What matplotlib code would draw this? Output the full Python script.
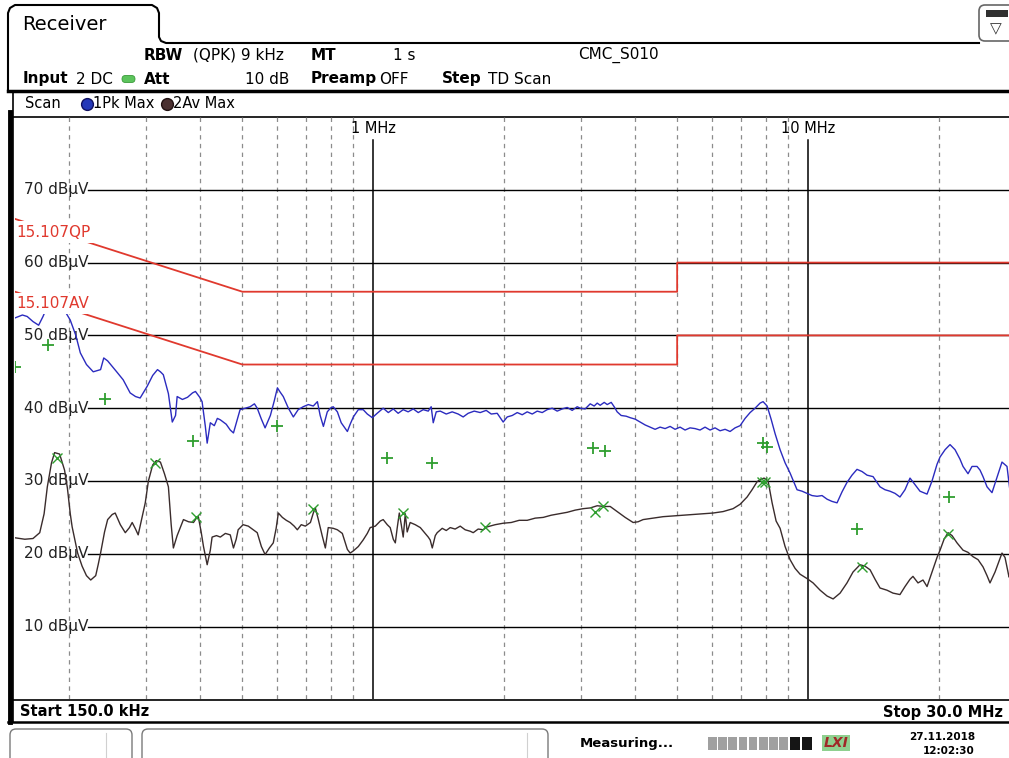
import matplotlib.pyplot as plt
from matplotlib.patches import FancyBboxPatch, Rectangle
from matplotlib.transforms import blended_transform_factory

plt.rcParams["font.family"] = ["DejaVu Sans"]

# peak detector trace (1Pk Max), frequency in MHz, level in dBuV
peak_freq_mhz = [
    0.150, 0.156, 0.160, 0.165, 0.170, 0.174, 0.181, 0.188, 0.196, 0.201, 0.207, 0.212, 0.219, 0.227,
    0.236, 0.240, 0.245, 0.249, 0.257, 0.266, 0.276, 0.284, 0.291, 0.302, 0.311, 0.319, 0.324, 0.329,
    0.338, 0.345, 0.351, 0.354, 0.364, 0.374, 0.384, 0.390, 0.399, 0.404, 0.411, 0.415, 0.422, 0.431,
    0.438, 0.445, 0.459, 0.469, 0.477, 0.487, 0.494, 0.508, 0.521, 0.533, 0.541, 0.553, 0.564, 0.580,
    0.592, 0.602, 0.611, 0.621, 0.638, 0.655, 0.672, 0.690, 0.709, 0.728, 0.744, 0.755, 0.768, 0.784,
    0.797, 0.809, 0.827, 0.844, 0.872, 0.885, 0.900, 0.924, 0.948, 0.969, 0.995, 1.021, 1.054, 1.083,
    1.112, 1.141, 1.172, 1.203, 1.236, 1.269, 1.303, 1.338, 1.359, 1.374, 1.396, 1.426, 1.472, 1.519,
    1.568, 1.610, 1.653, 1.707, 1.762, 1.819, 1.868, 1.928, 1.990, 2.033, 2.088, 2.144, 2.201, 2.260,
    2.321, 2.383, 2.447, 2.512, 2.580, 2.649, 2.720, 2.793, 2.868, 2.945, 2.992, 3.072, 3.155, 3.222,
    3.274, 3.326, 3.398, 3.452, 3.526, 3.582, 3.639, 3.717, 3.817, 3.898, 4.002, 4.110, 4.220, 4.333,
    4.449, 4.568, 4.691, 4.817, 4.945, 5.078, 5.214, 5.353, 5.497, 5.644, 5.796, 5.952, 6.112, 6.276,
    6.445, 6.617, 6.795, 6.978, 7.165, 7.357, 7.554, 7.757, 7.881, 8.051, 8.223, 8.399, 8.624, 8.855,
    9.091, 9.285, 9.434, 9.687, 9.947, 10.21, 10.49, 10.77, 11.06, 11.35, 11.66, 11.97, 12.29, 12.62,
    12.96, 13.31, 13.67, 14.11, 14.41, 14.64, 15.03, 15.43, 15.85, 16.27, 16.71, 17.16, 17.62, 18.09,
    18.78, 19.28, 19.80, 20.12, 20.66, 21.21, 21.78, 22.36, 22.72, 23.33, 23.83, 24.47, 24.86, 25.26,
    25.80, 26.49, 27.20, 27.93, 28.68, 29.14, 30.0,
]
peak_level_dbuv = [
    52.4, 52.8, 52.6, 51.9, 51.4, 52.6, 55.0, 55.3, 53.2, 52.1, 50.0, 47.6, 46.0, 45.0,
    45.3, 46.9, 46.5, 46.0, 45.0, 43.9, 42.1, 41.6, 41.4, 43.0, 44.5, 45.3, 45.0, 44.6,
    42.0, 38.1, 39.0, 41.6, 41.2, 41.5, 42.1, 42.3, 41.5, 40.9, 37.5, 35.2, 38.0, 37.6,
    38.6, 38.4, 37.8, 37.0, 36.6, 38.5, 39.8, 40.0, 40.2, 40.6, 40.0, 38.5, 37.3, 39.0,
    41.0, 42.8, 42.2, 41.6, 40.0, 38.8, 39.8, 40.2, 40.5, 40.3, 40.9, 39.0, 37.5, 39.5,
    40.0, 40.2, 39.5, 38.0, 36.8, 37.8, 38.8, 39.8, 39.8, 39.2, 38.7, 39.3, 40.0, 39.4,
    39.9, 39.3, 39.8, 39.5, 39.9, 39.4, 39.8, 39.6, 40.2, 38.0, 39.5, 39.6, 39.2, 39.5,
    39.2, 38.8, 39.3, 39.6, 39.4, 39.7, 39.2, 39.3, 38.1, 38.8, 39.0, 39.4, 39.1, 39.5,
    39.2, 39.6, 39.4, 39.8, 40.0, 39.6, 39.9, 40.1, 39.7, 40.2, 40.0, 39.9, 40.6, 40.3,
    40.7, 40.4, 40.8, 40.5, 40.8, 40.2, 39.5, 39.0, 38.9, 38.7, 38.5, 38.1, 37.7, 37.4,
    37.1, 37.4, 37.2, 37.5, 37.1, 37.4, 37.0, 37.3, 37.2, 37.0, 37.4, 37.0, 37.3, 36.9,
    37.1, 36.8, 37.3, 37.6, 38.6, 39.4, 40.0, 40.7, 40.9, 40.3, 38.5, 36.5, 34.3, 32.5,
    31.1, 29.8, 28.8, 28.6, 28.3, 28.0, 27.9, 28.0, 27.5, 27.2, 27.0, 28.5, 29.8, 30.8,
    31.6, 31.3, 30.8, 30.6, 29.8, 29.2, 28.8, 28.6, 28.3, 27.8, 28.8, 30.4, 29.5, 28.6,
    28.2, 30.0, 32.3, 33.3, 34.3, 35.0, 34.3, 33.0, 32.0, 31.0, 32.0, 32.0, 31.5, 30.6,
    29.2, 28.4, 30.5, 32.6, 32.0, 28.6, 29.5,
]

# average detector trace (2Av Max)
avg_freq_mhz = [
    0.150, 0.158, 0.165, 0.171, 0.175, 0.178, 0.182, 0.185, 0.190, 0.195, 0.198, 0.201, 0.203, 0.209,
    0.214, 0.219, 0.224, 0.230, 0.233, 0.236, 0.241, 0.245, 0.251, 0.255, 0.262, 0.269, 0.275, 0.279,
    0.284, 0.288, 0.294, 0.299, 0.304, 0.311, 0.317, 0.324, 0.331, 0.338, 0.343, 0.347, 0.354, 0.366,
    0.376, 0.386, 0.392, 0.396, 0.402, 0.407, 0.415, 0.422, 0.426, 0.436, 0.445, 0.457, 0.469, 0.477,
    0.484, 0.489, 0.502, 0.516, 0.530, 0.541, 0.553, 0.564, 0.577, 0.589, 0.598, 0.605, 0.618, 0.631,
    0.644, 0.658, 0.669, 0.683, 0.698, 0.717, 0.728, 0.736, 0.747, 0.763, 0.776, 0.788, 0.809, 0.827,
    0.849, 0.872, 0.885, 0.900, 0.924, 0.948, 0.969, 0.984, 1.011, 1.038, 1.054, 1.077, 1.094, 1.112,
    1.124, 1.135, 1.148, 1.160, 1.172, 1.185, 1.197, 1.216, 1.249, 1.283, 1.317, 1.338, 1.352, 1.367,
    1.389, 1.403, 1.441, 1.472, 1.503, 1.543, 1.585, 1.627, 1.671, 1.698, 1.743, 1.790, 1.828, 1.908,
    1.990, 2.077, 2.166, 2.260, 2.358, 2.460, 2.566, 2.677, 2.793, 2.914, 3.040, 3.155, 3.274, 3.398,
    3.507, 3.639, 3.797, 3.960, 4.066, 4.175, 4.402, 4.642, 4.892, 5.158, 5.439, 5.735, 6.048, 6.377,
    6.723, 6.978, 7.241, 7.435, 7.635, 7.757, 7.924, 8.093, 8.267, 8.444, 8.624, 8.855, 9.091, 9.335,
    9.585, 9.947, 10.27, 10.66, 11.06, 11.42, 11.85, 12.29, 12.69, 13.17, 13.52, 13.89, 14.26, 14.64,
    15.19, 15.68, 16.27, 16.71, 17.16, 17.43, 17.90, 18.38, 18.78, 19.28, 19.80, 20.12, 20.55, 20.99,
    21.44, 22.01, 22.72, 23.33, 23.96, 24.60, 25.26, 25.80, 26.21, 26.92, 27.93, 28.38, 28.99, 30.0,
]
avg_level_dbuv = [
    22.2, 22.0, 22.1, 22.9, 25.5, 29.2, 32.5, 33.9, 33.7, 31.5, 29.0, 25.5, 23.7, 20.1,
    18.3, 17.0, 16.4, 17.0, 18.5, 20.1, 23.0, 24.7, 25.4, 25.6, 24.0, 22.9, 23.6, 24.3,
    23.4, 22.6, 25.0, 27.0, 30.0, 32.2, 32.8, 32.6, 31.0, 29.2, 24.0, 20.8, 22.5, 24.7,
    24.4, 24.3, 24.9, 25.1, 23.0, 21.0, 18.5, 20.5, 22.3, 22.5, 22.3, 22.8, 22.6, 20.8,
    22.0, 23.3, 24.0, 23.8, 23.3, 22.9, 21.0, 19.9, 20.8, 21.5, 23.5, 25.6, 25.0, 24.6,
    24.3, 23.8, 23.3, 24.0, 23.8, 24.3, 25.6, 26.3, 24.8, 22.5, 20.8, 23.6, 23.5, 23.3,
    22.8, 20.6, 20.1, 20.4, 21.0, 21.9, 22.8, 23.6, 23.8, 24.5, 24.7, 24.0, 23.6, 22.0,
    21.5, 23.5, 25.6, 24.0, 22.3, 25.5, 23.0, 24.3, 24.0, 23.6, 22.8, 22.3, 21.9, 20.8,
    22.5, 22.9, 23.5, 23.2, 23.6, 23.4, 23.8, 23.3, 23.1, 22.9, 23.4, 23.3, 23.7, 24.0,
    24.2, 24.3, 24.6, 24.6, 24.9, 25.0, 25.3, 25.5, 25.7, 26.0, 26.2, 26.3, 26.6, 26.5,
    26.5, 25.8, 25.0, 24.3, 24.4, 24.7, 24.9, 25.1, 25.2, 25.3, 25.4, 25.5, 25.6, 25.8,
    26.2, 26.8, 27.8, 28.8, 29.9, 30.2, 30.4, 30.0, 27.0, 24.5, 23.5, 21.0, 19.2, 18.0,
    17.2, 16.6, 16.0, 15.0, 14.2, 13.8, 14.6, 16.0, 17.5, 18.5, 18.3, 17.8, 16.5, 15.3,
    15.0, 14.6, 14.4, 15.5, 16.5, 16.9, 16.0, 16.4, 15.5, 17.5, 19.5, 20.5, 22.0, 22.9,
    22.5, 21.5, 20.5, 20.2, 19.6, 19.2, 18.2, 17.0, 16.0, 17.5, 20.1, 19.5, 16.8, 17.5,
]

# final measurement points
qp_final_freq = [0.150, 0.179, 0.241, 0.386, 0.602, 1.077, 1.367, 3.205, 3.416, 7.881, 8.051, 12.96, 21.10]
qp_final_level = [45.7, 48.7, 41.2, 35.5, 37.6, 33.2, 32.5, 34.6, 34.1, 35.2, 34.7, 23.4, 27.8]
av_final_freq = [0.187, 0.315, 0.392, 0.728, 1.172, 1.809, 3.239, 3.380, 7.840, 7.966, 13.31, 20.99]
av_final_level = [33.2, 32.5, 25.1, 26.2, 25.6, 23.7, 25.8, 26.6, 29.9, 29.8, 18.2, 22.7]

# FCC 15.107 limit lines
limit_freq = [0.15, 0.5, 5.0, 5.0, 30.0]
qp_limit = [66, 56, 56, 60, 60]
av_limit = [56, 46, 46, 50, 50]

level_ticks = [10, 20, 30, 40, 50, 60, 70]
decade_freqs = [1.0, 10.0]
decade_labels = ["1 MHz", "10 MHz"]
minor_freqs = [0.2, 0.3, 0.4, 0.5, 0.6, 0.7, 0.8, 0.9, 2, 3, 4, 5, 6, 7, 8, 9, 20]

blue = "#2b2bbf"
dark = "#3a2c2c"
red = "#e0392e"
green = "#2f9e2f"

fig = plt.figure(figsize=(10.09, 7.58), dpi=100)

# screen furniture in pixel coordinates
bg = fig.add_axes([0, 0, 1, 1])
bg.set_xlim(0, 1009)
bg.set_ylim(758, 0)
bg.set_axis_off()

bg.plot([8, 8, 10, 15, 152, 157, 159, 159, 161, 166, 979],
        [90, 13, 8, 5, 5, 8, 13, 37, 41, 43, 43], color="black", lw=1.5)
bg.text(22, 24, "Receiver", fontsize=14, va="center")
bg.add_patch(FancyBboxPatch((979, 5), 40, 36, boxstyle="round,pad=0,rounding_size=6",
                            fc="white", ec="#666666", lw=1.2))
bg.add_patch(Rectangle((986, 10), 22, 7, fc="#303030", ec="none"))
bg.text(996, 29, "\u25bd", fontsize=11, ha="center", va="center", color="#333333")

header = [
    (144, 55, "RBW", "bold"), (193, 55, "(QPK) 9 kHz", "normal"), (311, 55, "MT", "bold"),
    (393, 55, "1 s", "normal"), (578, 55, "CMC_S010", "normal"),
    (23, 79, "Input", "bold"), (76, 79, "2 DC", "normal"), (144, 79, "Att", "bold"),
    (311, 79, "Preamp", "bold"), (379, 79, "OFF", "normal"), (442, 79, "Step", "bold"),
    (488, 79, "TD Scan", "normal"),
]
for x, y, label, weight in header:
    bg.text(x, y, label, fontsize=11, fontweight=weight, va="center")
bg.text(289, 79, "10 dB", fontsize=11, va="center", ha="right")
bg.add_patch(FancyBboxPatch((122, 75.5), 13, 7, boxstyle="round,pad=0,rounding_size=3.5",
                            fc="#5cc45c", ec="#3a9a3a", lw=0.6))

bg.plot([8, 1009], [90.5, 90.5], color="black", lw=2.5)
bg.text(25, 104, "Scan", fontsize=10.5, va="center")
bg.plot(87, 104, "o", ms=8.5, color="#2438b8", mec="#101060")
bg.text(93, 104, "1Pk Max", fontsize=10.5, va="center")
bg.plot(167, 104, "o", ms=8.5, color="#4a3030", mec="#201010")
bg.text(173, 104, "2Av Max", fontsize=10.5, va="center")

bg.plot([13, 1009], [116.8, 116.8], color="black", lw=1.2)
bg.plot([13, 1009], [700, 700], color="black", lw=1.2)
bg.plot([8, 1009], [722, 722], color="black", lw=1.8)
bg.text(20, 712, "Start 150.0 kHz", fontsize=10.5, fontweight="bold", va="center")
bg.text(1003, 712, "Stop 30.0 MHz", fontsize=10.5, fontweight="bold", va="center", ha="right")

# status bar
for x0, x1, divider in [(10, 132, 106), (142, 548, 527)]:
    bg.add_patch(FancyBboxPatch((x0, 729), x1 - x0, 40, boxstyle="round,pad=0,rounding_size=6",
                                fc="white", ec="#7a7a7a", lw=1.0))
    bg.plot([divider, divider], [733, 758], color="#d0d0d0", lw=0.8)
bg.text(580, 743, "Measuring...", fontsize=9.5, fontweight="bold", va="center")
for i in range(8):
    bg.add_patch(Rectangle((708 + i * 10.2, 737), 8.6, 13, fc="#a0a0a0", ec="none"))
bg.add_patch(Rectangle((790, 737), 10, 13, fc="#151515", ec="none"))
bg.add_patch(Rectangle((802, 737), 10, 13, fc="#151515", ec="none"))
bg.text(836, 743, "LXI", fontsize=10, fontweight="bold", fontstyle="italic", color="#a02828",
        ha="center", va="center",
        bbox=dict(boxstyle="square,pad=0.1", fc="#8fd08f", ec="none"))
bg.text(942, 737, "27.11.2018", fontsize=7.5, fontweight="bold", ha="center", va="center")
bg.text(949, 751, "12:02:30", fontsize=7.5, fontweight="bold", ha="center", va="center")

# measurement diagram, 150 kHz .. 30 MHz on a log axis, 0 .. 80 dBuV
ax = fig.add_axes([15 / 1009, 1 - 699.4 / 758, 1000.5 / 1009, 582.4 / 758])
ax.set_xscale("log")
ax.set_xlim(0.15, 30)
ax.set_ylim(0, 80)
ax.set_axis_off()
label_x = blended_transform_factory(ax.transAxes, ax.transData)
label_y = blended_transform_factory(ax.transData, ax.transAxes)

for f in minor_freqs:
    ax.axvline(f, color="#8c8c8c", lw=0.9, ls=(0, (3.5, 3.5)), zorder=1)
for f, label in zip(decade_freqs, decade_labels):
    ax.axvline(f, ymax=0.96, color="black", lw=1.1, zorder=1)
    ax.text(f, 0.981, label, transform=label_y, fontsize=10.5, ha="center", va="center")
for level in level_ticks:
    ax.axhline(level, xmin=0.073, color="black", lw=1.0, zorder=1)
    ax.text(0.073, level, f"{level} dB\u00b5V", transform=label_x, fontsize=11,
            ha="right", va="center", color="#222222")

ax.plot(limit_freq, qp_limit, color=red, lw=1.3, zorder=3)
ax.plot(limit_freq, av_limit, color=red, lw=1.3, zorder=3)
ax.plot(peak_freq_mhz, peak_level_dbuv, color=blue, lw=1.0, zorder=4)
ax.plot(avg_freq_mhz, avg_level_dbuv, color=dark, lw=1.0, zorder=4)
ax.plot(qp_final_freq, qp_final_level, "+", color=green, ms=8.5, mew=1.3, zorder=5)
ax.plot(av_final_freq, av_final_level, "x", color=green, ms=7, mew=1.0, zorder=5)

ax.text(0.001, 64.2, "15.107QP", transform=label_x, fontsize=11, color=red, va="center",
        bbox=dict(boxstyle="square,pad=0.22", fc="white", ec="none"), zorder=6)
ax.text(0.001, 54.4, "15.107AV", transform=label_x, fontsize=11, color=red, va="center",
        bbox=dict(boxstyle="square,pad=0.22", fc="white", ec="none"), zorder=6)

# left frame edge drawn last so the limit labels do not cover it
fg = fig.add_axes([0, 0, 1, 1], facecolor="none")
fg.set_xlim(0, 1009)
fg.set_ylim(758, 0)
fg.set_axis_off()
fg.plot([13, 13], [93, 722], color="black", lw=1.2)
fg.plot([9.5, 9.5], [112, 722], color="black", lw=3.5)

fig.savefig("out.png", dpi=100)
